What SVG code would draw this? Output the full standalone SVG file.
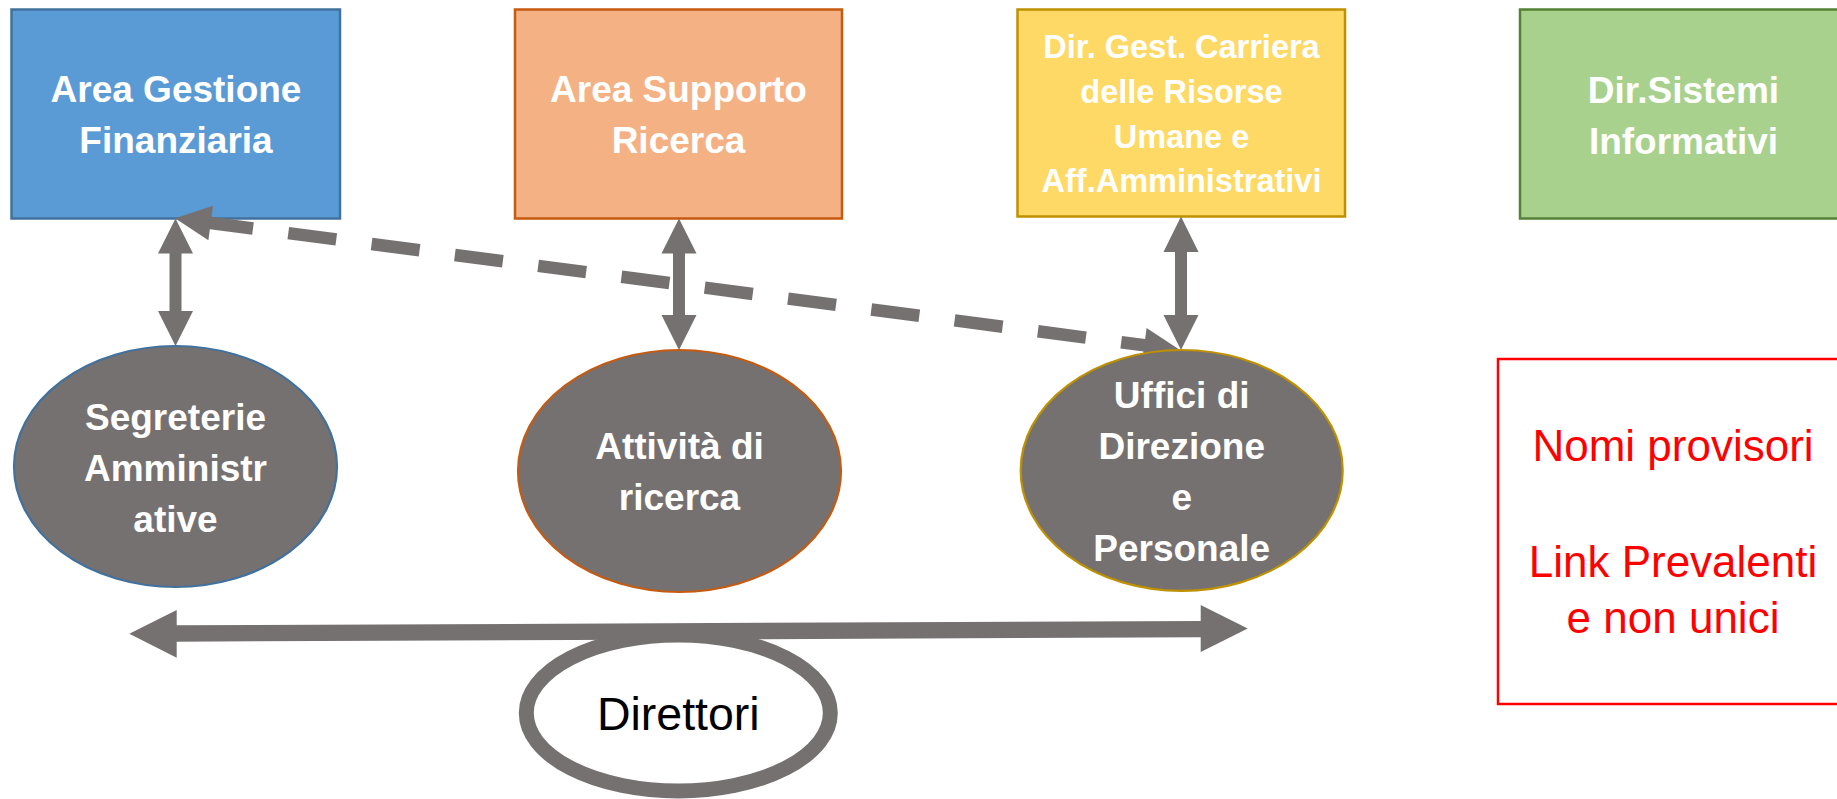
<svg xmlns="http://www.w3.org/2000/svg" width="1837" height="799" viewBox="0 0 1837 799">
<style>
.box{stroke-width:2.5}
.ell{fill:#767171;stroke-width:2.2}
.wt{font-family:"Liberation Sans",Arial,sans-serif;font-weight:bold;fill:#ffffff;text-anchor:middle}
.arrow{fill:#767171;stroke:none}
.dash{fill:none;stroke:#767171;stroke-width:12.5;stroke-dasharray:48.4 35.6}
.note{font-family:"Liberation Sans",Arial,sans-serif;fill:#ff0000;text-anchor:middle;font-size:44px}
</style>
<rect width="1837" height="799" fill="#ffffff"/>

<g id="area-gestione-finanziaria">
<rect class="box" x="11.5" y="9.5" width="328.5" height="209" fill="#5B9BD5" stroke="#41719C"/>
<text class="wt" font-size="37" x="176" y="102">Area Gestione</text>
<text class="wt" font-size="37" x="176" y="153">Finanziaria</text>
</g>

<g id="area-supporto-ricerca">
<rect class="box" x="515" y="9.5" width="327" height="209" fill="#F4B183" stroke="#C55A11"/>
<text class="wt" font-size="37" x="678.5" y="102">Area Supporto</text>
<text class="wt" font-size="37" x="678.5" y="153">Ricerca</text>
</g>

<g id="dir-gest-carriera">
<rect class="box" x="1017.5" y="9.5" width="327.5" height="207" fill="#FFD966" stroke="#BF9000"/>
<text class="wt" font-size="32.5" x="1181.5" y="58">Dir. Gest. Carriera</text>
<text class="wt" font-size="32.5" x="1181.5" y="103">delle Risorse</text>
<text class="wt" font-size="32.5" x="1181.5" y="148">Umane e</text>
<text class="wt" font-size="32.5" x="1181.5" y="192">Aff.Amministrativi</text>
</g>

<g id="dir-sistemi-informativi">
<rect class="box" x="1520" y="9.5" width="340" height="209" fill="#A9D18E" stroke="#538135"/>
<text class="wt" font-size="37" x="1683.5" y="103">Dir.Sistemi</text>
<text class="wt" font-size="37" x="1683.5" y="154">Informativi</text>
</g>

<g id="nota">
<rect x="1498" y="359" width="360" height="345" fill="none" stroke="#FF0000" stroke-width="2.5"/>
<text class="note" x="1673" y="460.5">Nomi provisori</text>
<text class="note" x="1673" y="576.5">Link Prevalenti</text>
<text class="note" x="1673" y="633">e non unici</text>
</g>

<g id="direttori">
<ellipse cx="678.3" cy="713" rx="152" ry="78" fill="#ffffff" stroke="#767171" stroke-width="15"/>
<text x="678.3" y="730" font-family="'Liberation Sans',Arial,sans-serif" font-size="46.5" fill="#000000" text-anchor="middle">Direttori</text>
</g>

<g id="connectors">
<line class="dash" x1="205" y1="222.2" x2="1160" y2="347.3"/>
<polygon class="arrow" points="175,218.3 213,205.7 208.4,240.3"/>
<polygon class="arrow" points="1180,350 1146.6,328 1142,362.6"/>
<polygon class="arrow" points="175.5,218.5 193,253.5 181.5,253.5 181.5,311 193,311 175.5,346 158,311 169.5,311 169.5,253.5 158,253.5"/>
<polygon class="arrow" points="679,218.5 696.5,253.5 685,253.5 685,315 696.5,315 679,350 661.5,315 673,315 673,253.5 661.5,253.5"/>
<polygon class="arrow" points="1181,216.5 1198.5,252 1187,252 1187,315 1198.5,315 1181,350 1163.5,315 1175,315 1175,252 1163.5,252"/>
<polygon class="arrow" points="129.3,633.8 176.7,610 176.7,625.3 1200.7,621 1200.7,605 1247.7,628.5 1200.7,652 1200.7,637.3 176.7,641.7 176.7,657.7"/>
</g>

<g id="segreterie-amministrative">
<ellipse class="ell" cx="175.5" cy="466.5" rx="161.5" ry="120.5" stroke="#41719C"/>
<text class="wt" font-size="37" x="175.5" y="430">Segreterie</text>
<text class="wt" font-size="37" x="175.5" y="481">Amministr</text>
<text class="wt" font-size="37" x="175.5" y="531.5">ative</text>
</g>

<g id="attivita-di-ricerca">
<ellipse class="ell" cx="679.5" cy="471" rx="161.5" ry="121" stroke="#C55A11"/>
<text class="wt" font-size="37" x="679.5" y="459">Attività di</text>
<text class="wt" font-size="37" x="679.5" y="510">ricerca</text>
</g>

<g id="uffici-di-direzione">
<ellipse class="ell" cx="1181.7" cy="470.4" rx="161" ry="120.4" stroke="#BF9000"/>
<text class="wt" font-size="37" x="1181.7" y="408">Uffici di</text>
<text class="wt" font-size="37" x="1181.7" y="459">Direzione</text>
<text class="wt" font-size="37" x="1181.7" y="510">e</text>
<text class="wt" font-size="37" x="1181.7" y="561">Personale</text>
</g>
</svg>
